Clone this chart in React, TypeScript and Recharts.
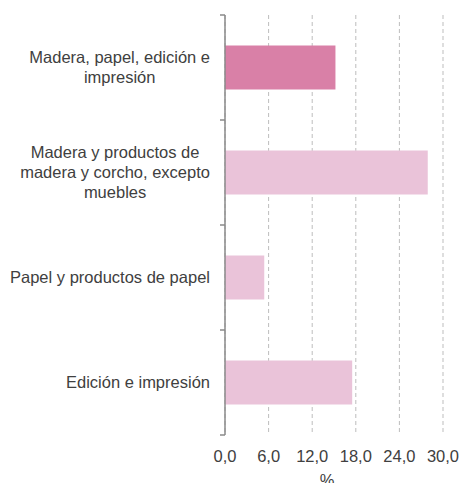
import React from 'react';
import { BarChart, Bar, XAxis, YAxis, CartesianGrid, Cell } from 'recharts';

const categories = [
    'Madera, papel, edición e impresión',
    'Madera y productos de madera y corcho, excepto muebles',
    'Papel y productos de papel',
    'Edición e impresión'
];
const values = [15.2, 27.9, 5.4, 17.5];
const highlighted = [true, false, false, false];
const xTicks = [0, 6, 12, 18, 24, 30];

const FONT = "'Liberation Sans', Arial, sans-serif";
const FONT_SIZE = 16.5;
const TEXT_COLOR = '#404040';
const AXIS_COLOR = '#8a8a8a';

const data = categories.map((name, i) => ({ name, value: values[i], main: highlighted[i] }));

let ctx: CanvasRenderingContext2D | null = null;
const measure = (s: string) => {
    if (!ctx) ctx = document.createElement('canvas').getContext('2d');
    if (!ctx) return s.length * 8;
    ctx.font = `${FONT_SIZE}px ${FONT}`;
    return ctx.measureText(s).width;
};

const wrap = (text: string, maxWidth: number) => {
    const words = text.split(' ');
    const lines: string[] = [];
    let cur = '';
    words.forEach((w) => {
        const next = cur ? `${cur} ${w}` : w;
        if (cur && measure(next) > maxWidth) {
            lines.push(cur);
            cur = w;
        } else {
            cur = next;
        }
    });
    if (cur) lines.push(cur);
    return lines;
};

const CategoryTick = (props: any) => {
    const { x, y, payload, index } = props;
    const lines = wrap(payload.value, 206);
    const blockW = Math.max(...lines.map(measure));
    const cx = x - blockW / 2;
    const half = payload.offset ?? 52.5;
    return (
        <g>
            {lines.map((l, i) => (
                <text
                    key={i}
                    x={cx}
                    y={y + (i - (lines.length - 1) / 2) * 20}
                    dy="0.35em"
                    textAnchor="middle"
                    fontSize={FONT_SIZE}
                    fontFamily={FONT}
                    fill={TEXT_COLOR}
                >
                    {l}
                </text>
            ))}
            <line x1={x + 10} x2={x + 15} y1={y - half} y2={y - half} stroke={AXIS_COLOR} strokeWidth={1.5} />
            {index === categories.length - 1 && (
                <line x1={x + 10} x2={x + 15} y1={y + half} y2={y + half} stroke={AXIS_COLOR} strokeWidth={1.5} />
            )}
        </g>
    );
};

const PercentLabel = (props: any) => {
    const { viewBox } = props;
    return (
        <text
            x={viewBox.x + viewBox.width / 2 - 7}
            y={viewBox.y + 51}
            textAnchor="middle"
            fontSize={FONT_SIZE}
            fontFamily={FONT}
            fill={TEXT_COLOR}
        >
            %
        </text>
    );
};

export default function App() {
    return (
        <div style={{ position: 'absolute', left: 0, top: 0, background: '#fff' }}>
            <BarChart
                width={459}
                height={483}
                data={data}
                layout="vertical"
                margin={{ top: 15, right: 16, bottom: 0, left: 0 }}
                barCategoryGap="29%"
            >
                <CartesianGrid horizontal={false} stroke="#bdbdbd" strokeDasharray="4 3" />
                <XAxis
                    type="number"
                    domain={[0, 30]}
                    ticks={xTicks}
                    tickFormatter={(v: number) => v.toFixed(1).replace('.', ',')}
                    axisLine={false}
                    tickLine={false}
                    tickSize={0}
                    tickMargin={15}
                    height={48}
                    interval={0}
                    tick={{ fontSize: FONT_SIZE, fontFamily: FONT, fill: TEXT_COLOR }}
                    label={<PercentLabel />}
                />
                <YAxis
                    type="category"
                    dataKey="name"
                    width={225}
                    axisLine={{ stroke: AXIS_COLOR, strokeWidth: 1.5 }}
                    tickLine={false}
                    tickSize={0}
                    tickMargin={15}
                    interval={0}
                    tick={<CategoryTick />}
                />
                <Bar dataKey="value" isAnimationActive={false}>
                    {data.map((d) => (
                        <Cell key={d.name} fill={d.main ? '#d980a7' : '#eac3d9'} />
                    ))}
                </Bar>
            </BarChart>
        </div>
    );
}
